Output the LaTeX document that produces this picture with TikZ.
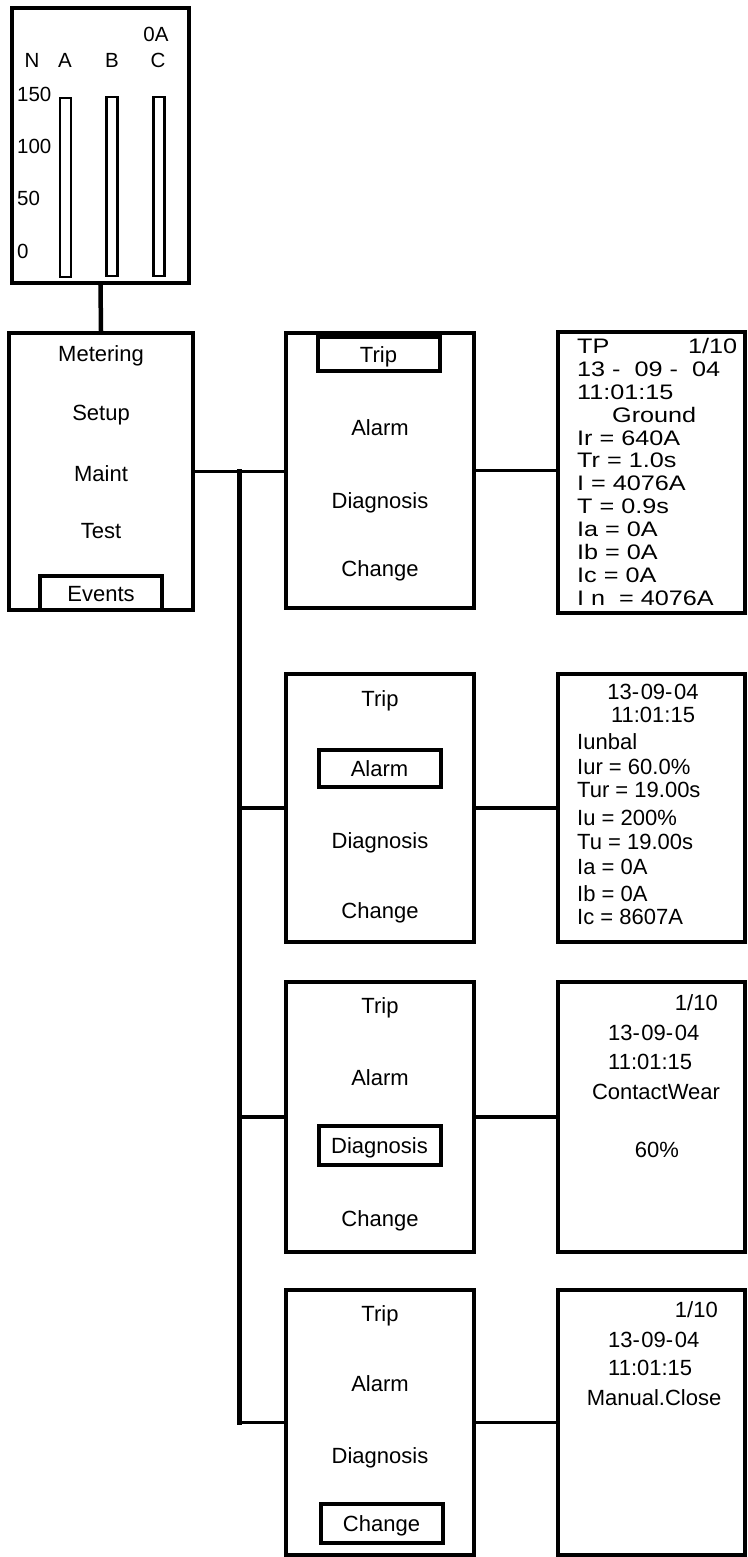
\documentclass[tikz,border=0pt]{standalone}
\usepackage{fontspec}
\setmainfont{Liberation Sans}
\newfontfamily\widesans[FakeStretch=1.2]{Liberation Sans}
\usetikzlibrary{positioning,calc}

\begin{document}
\begin{tikzpicture}[
  x=1pt,y=-1pt,
  font=\fontsize{22}{24}\selectfont,
  panel/.style={draw,line width=4.5pt,inner sep=0pt},
  menubox/.style={panel,minimum width=188pt},
  infobox/.style={panel,minimum width=187pt},
  item/.style={inner sep=0pt,text height=16pt,text depth=0pt},
  sel/.style={item,draw,line width=4pt,minimum width=122pt,minimum height=37pt},
  bar/.style={draw,line width=2.5pt,inner sep=0pt,minimum width=11pt,minimum height=179pt},
  scalelbl/.style={inner sep=0pt,font=\fontsize{20.5}{22}\selectfont},
  info/.style={inner sep=0pt,font=\fontsize{22}{25}\selectfont},
  tpinfo/.style={inner sep=0pt,align=left,text width=160pt,
                 font=\widesans\fontsize{21}{22.9}\selectfont},
  link/.style={line width=3.5pt},
  trunk/.style={line width=4.5pt,line cap=rect}
]
\useasboundingbox (0,0) rectangle (747,1557);

% ---- bar meter
\node[panel,minimum width=177pt,minimum height=275pt] (meter) at (100.5,145.5) {};
\node[bar] (barA) at (65.5,187.5) {};
\node[bar] (barB) at (112,186.5) {};
\node[bar] (barC) at (159,186.5) {};
\node[scalelbl,anchor=base] (lN) at (32,68) {N};
\node[scalelbl,anchor=base] (lA) at (65,68) {A};
\node[scalelbl,anchor=base] (lB) at (112,68) {B};
\node[scalelbl,anchor=base] (lC) at (158,68) {C};
\node[scalelbl,anchor=base] (lamp) at (156,42) {0A};
\node[scalelbl,anchor=base west] (s150) at (17,102) {150};
\node[scalelbl,anchor=base west] (s100) at (17,154) {100};
\node[scalelbl,anchor=base west] (s50) at (17,205) {50};
\node[scalelbl,anchor=base west] (s0) at (17,258) {0};

% ---- main menu
\node[panel,minimum width=184pt,minimum height=277pt] (menu) at (101,471.5) {};
\node[item] (mMeter) at (101,353) {Metering};
\node[item] (mSetup) at (101,412) {Setup};
\node[item] (mMaint) at (101,473) {Maint};
\node[item] (mTest) at (101,530) {Test};
\node[sel,minimum height=34pt] (mEvents) at (101,593) {Events};

% ---- event menus
\node[menubox,minimum height=275pt] (trip) at (380,470.5) {};
\node[sel,minimum height=34pt] (t1) at (378.5,354) {Trip};
\node[item] (t2) at (380,427) {Alarm};
\node[item] (t3) at (380,500) {Diagnosis};
\node[item] (t4) at (380,568) {Change};

\node[menubox,minimum height=268pt] (alarm) at (380,808) {};
\node[item] (a1) at (380,698) {Trip};
\node[sel] (a2) at (379.5,768) {Alarm};
\node[item] (a3) at (380,840) {Diagnosis};
\node[item] (a4) at (380,910) {Change};

\node[menubox,minimum height=270pt] (diag) at (380,1117) {};
\node[item] (d1) at (380,1005) {Trip};
\node[item] (d2) at (380,1077) {Alarm};
\node[sel,minimum height=39pt] (d3) at (379.5,1145.5) {Diagnosis};
\node[item] (d4) at (380,1218) {Change};

\node[menubox,minimum height=265pt] (change) at (380,1422.5) {};
\node[item] (c1) at (380,1313) {Trip};
\node[item] (c2) at (380,1383) {Alarm};
\node[item] (c3) at (380,1455) {Diagnosis};
\node[sel,minimum height=39pt] (c4) at (381.5,1523.5) {Change};

% ---- event records
\node[infobox,minimum height=281pt] (tripinfo) at (651.5,472.5) {};
\node[tpinfo,anchor=north west] (tpdata) at (577,338)
  {TP\hfill 1/10\\
   13 -\ \ 09 -\ \ 04\\
   11:01:15\\
   \hspace*{35pt}Ground\\
   Ir = 640A\\
   Tr = 1.0s\\
   I = 4076A\\
   T = 0.9s\\
   Ia = 0A\\
   Ib = 0A\\
   Ic = 0A\\
   I n \ = 4076A};

\node[infobox,minimum height=268pt] (alarminfo) at (651.5,808) {};
\node[info,anchor=base] (alDate) at (653,699) {13-\hspace{1.5pt}09-\hspace{1.5pt}04};
\node[info,anchor=base] (alTime) at (653,722) {11:01:15};
\foreach \txt/\yy [count=\i] in {Iunbal/749,Iur = 60.0\%/774,Tur = 19.00s/797,
    Iu = 200\%/825,Tu = 19.00s/849,Ia = 0A/874,Ib = 0A/901,Ic = 8607A/924}
  \node[info,anchor=base west] (al\i) at (577,\yy) {\txt};

\node[infobox,minimum height=270pt] (diaginfo) at (651.5,1117) {};
\node[info,anchor=base east] (dgNo) at (718,1010) {1/10};
\node[info,anchor=base west] (dgDate) at (608,1040) {13-\hspace{1.5pt}09-\hspace{1.5pt}04};
\node[info,anchor=base west] (dgTime) at (608,1069) {11:01:15};
\node[info,anchor=base] (dgKind) at (656,1099) {ContactWear};
\node[info,anchor=base] (dgVal) at (657,1157) {60\%};

\node[infobox,minimum height=265pt] (changeinfo) at (651.5,1422.5) {};
\node[info,anchor=base east] (chNo) at (718,1317) {1/10};
\node[info,anchor=base west] (chDate) at (608,1347) {13-\hspace{1.5pt}09-\hspace{1.5pt}04};
\node[info,anchor=base west] (chTime) at (608,1375) {11:01:15};
\node[info,anchor=base] (chKind) at (654,1405) {Manual.Close};

% ---- connectors
\draw[trunk] (meter.south) -- (menu.north);
\draw[link] (menu.east) -- (menu.east -| trip.west);
\coordinate (fork) at ($(menu.east)!0.5!(menu.east -| trip.west)$);
\draw[trunk] (fork) -- (fork |- change.west);
\draw[link] (fork |- alarm.west) -- (alarm.west);
\draw[link] (fork |- diag.west) -- (diag.west);
\draw[link] (fork |- change.west) -- (change.west);
\draw[link] (trip.east) -- (trip.east -| tripinfo.west);
\draw[link] (alarm.east) -- (alarminfo.west);
\draw[link] (diag.east) -- (diaginfo.west);
\draw[link] (change.east) -- (changeinfo.west);
\end{tikzpicture}
\end{document}
